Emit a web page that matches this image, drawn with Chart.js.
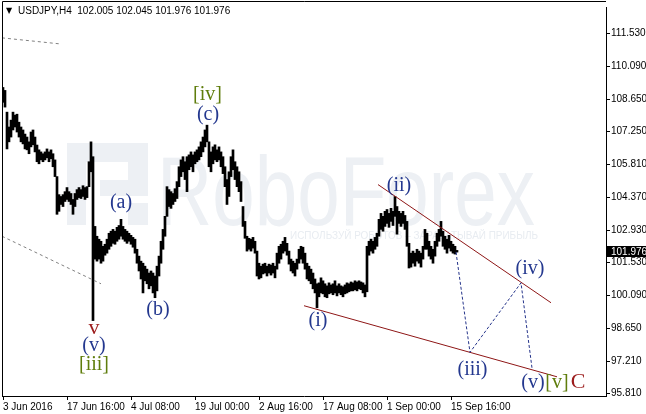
<!DOCTYPE html>
<html>
<head>
<meta charset="utf-8">
<script src="https://cdn.jsdelivr.net/npm/chart.js@4.4.1/dist/chart.umd.min.js"></script>
<style>
  html, body { margin: 0; padding: 0; background: #fff; }
  canvas { display: block; }
</style>
</head>
<body>
<canvas id="chart" width="646" height="414"></canvas>
<script>
// ---- data ----
const symbol = "USDJPY,H4";
const lastQuote = [102.005, 102.045, 101.976, 101.976]; // open high low close
const xLabels = ["3 Jun 2016", "17 Jun 16:00", "4 Jul 08:00", "19 Jul 00:00", "2 Aug 16:00", "17 Aug 08:00", "1 Sep 00:00", "15 Sep 16:00"];
const barsPerLabel = 64;   // H4 bars between two time labels
const barsPerColumn = 2;   // each high/low pair below covers two H4 bars
const yTicks = [95.81, 97.21, 98.65, 100.09, 101.53, 102.93, 104.37, 105.81, 107.25, 108.65, 110.09, 111.53];

const highs = [
  109.18, 109.05, 108.10, 107.45, 107.75, 108.10, 107.97, 108.01, 107.66, 107.45,
  107.32, 107.14, 107.01, 106.80, 107.23, 107.32, 107.01, 106.66, 106.45, 106.36,
  106.28, 106.36, 106.49, 106.36, 106.45, 106.28, 106.01, 105.28, 104.49, 104.41,
  104.49, 104.62, 104.80, 104.62, 104.54, 104.28, 104.54, 104.71, 104.80, 104.71,
  104.88, 104.80, 104.84, 105.93, 106.80, 106.15, 103.10, 102.67, 102.54, 102.45,
  102.23, 102.32, 102.54, 102.80, 102.89, 102.97, 102.89, 103.06, 103.14, 103.41,
  103.10, 102.97, 102.89, 102.80, 102.71, 102.62, 102.54, 102.10, 101.80, 101.58,
  101.49, 101.36, 101.23, 101.06, 101.15, 101.06, 100.93, 101.36, 101.80, 102.45,
  102.97, 103.54, 104.84, 104.71, 104.62, 104.54, 104.75, 105.06, 105.71, 106.01,
  106.15, 105.93, 106.15, 106.23, 106.36, 106.23, 106.36, 106.45, 106.58, 106.80,
  107.01, 107.32, 107.53, 106.80, 106.36, 106.58, 106.67, 106.45, 106.58, 106.36,
  106.15, 105.71, 105.15, 105.49, 106.15, 106.45, 105.93, 105.71, 105.49, 105.06,
  103.97, 103.32, 102.67, 102.58, 102.54, 102.62, 102.45, 102.02, 101.49, 101.36,
  101.45, 101.49, 101.36, 101.45, 101.41, 101.49, 101.36, 101.93, 102.23, 102.32,
  102.45, 102.62, 102.36, 102.02, 101.67, 101.58, 101.49, 101.67, 102.10, 102.23,
  102.19, 101.93, 101.49, 101.36, 101.23, 101.06, 100.80, 100.59, 100.63, 100.85,
  100.72, 100.59, 100.50, 100.63, 100.54, 100.59, 100.72, 100.50, 100.59, 100.50,
  100.46, 100.54, 100.63, 100.59, 100.67, 100.63, 100.72, 100.67, 100.72, 100.67,
  100.63, 100.54, 102.23, 102.45, 102.54, 102.45, 102.62, 102.80, 103.41, 103.67,
  103.54, 103.76, 103.84, 103.67, 103.89, 103.76, 104.41, 103.97, 103.76, 103.67,
  103.76, 103.58, 103.32, 102.36, 101.93, 102.02, 101.93, 102.10, 102.02, 101.93,
  102.23, 102.97, 102.80, 102.45, 102.23, 102.10, 102.45, 102.80, 102.97, 103.32,
  102.89, 102.67, 102.54, 102.71, 102.45, 102.32, 102.23, 102.05
];
const lows = [
  108.53, 108.32, 106.49, 106.80, 107.01, 107.32, 107.45, 107.23, 107.01, 106.80,
  106.71, 106.49, 106.45, 106.28, 106.58, 106.67, 106.36, 105.93, 105.84, 106.01,
  105.93, 106.01, 106.10, 105.93, 106.06, 105.71, 105.28, 103.63, 103.76, 104.06,
  103.97, 104.19, 104.28, 104.19, 104.06, 103.63, 103.97, 104.28, 104.36, 104.32,
  104.41, 104.28, 104.36, 104.84, 105.49, 98.98, 101.67, 101.58, 101.67, 101.49,
  101.58, 101.84, 101.93, 102.10, 102.23, 102.36, 102.32, 102.45, 102.54, 102.67,
  102.54, 102.45, 102.36, 102.45, 102.32, 102.19, 101.93, 101.49, 101.15, 100.80,
  100.19, 100.72, 100.59, 100.37, 100.50, 100.19, 99.98, 100.28, 100.93, 101.49,
  102.10, 102.67, 103.54, 103.97, 103.89, 104.06, 104.19, 104.32, 104.84, 105.28,
  105.49, 105.15, 104.62, 105.58, 105.71, 105.49, 105.84, 105.93, 106.01, 106.15,
  106.36, 106.58, 106.80, 105.71, 105.49, 105.84, 106.01, 105.93, 106.01, 105.71,
  105.41, 104.84, 104.06, 104.41, 105.28, 105.58, 105.15, 104.84, 104.62, 104.19,
  103.10, 102.58, 102.02, 102.10, 102.02, 102.15, 101.93, 100.93, 100.80, 100.85,
  101.02, 101.06, 100.93, 101.06, 100.97, 101.06, 100.85, 101.23, 101.49, 101.67,
  101.93, 102.02, 101.84, 101.45, 101.15, 101.06, 100.93, 101.23, 101.49, 101.67,
  101.49, 101.23, 100.80, 100.72, 100.59, 100.37, 100.19, 99.54, 100.02, 100.19,
  100.15, 100.02, 99.98, 100.15, 100.19, 100.11, 100.19, 100.06, 100.19, 100.11,
  100.02, 100.15, 100.19, 100.24, 100.28, 100.28, 100.33, 100.28, 100.37, 100.33,
  100.19, 100.02, 100.24, 101.84, 102.02, 101.93, 102.10, 102.23, 102.67, 102.97,
  102.89, 103.10, 103.23, 103.06, 103.32, 103.14, 103.54, 102.76, 103.23, 103.10,
  103.23, 102.97, 102.23, 101.28, 101.32, 101.49, 101.36, 101.58, 101.49, 101.32,
  101.67, 102.10, 102.10, 101.80, 101.67, 101.49, 101.80, 102.23, 102.45, 102.67,
  102.23, 102.10, 101.93, 102.15, 102.02, 101.93, 101.89, 101.976
];

// older channel (grey dashed) and the current triangle (dark red), bar index / price
const oldTopBars = [-1, 56];
const oldTopPrices = [111.35, 111.09];
const oldLowBars = [-1, 98];
const oldLowPrices = [102.67, 100.59];
const upperLineBars = [375, 548];
const upperLinePrices = [104.93, 99.76];
const lowerLineBars = [301, 554];
const lowerLinePrices = [99.63, 96.52];
// forecast path (iii) -> (iv) -> (v)
const forecastBars = [453, 467, 518, 529];
const forecastPrices = [101.976, 97.59, 100.63, 96.90];

// wave labels
const waveTexts = ["v", "(v)", "[iii]", "(a)", "(b)", "[iv]", "(c)", "(i)", "(ii)", "(iii)", "(iv)", "(v)", "[v]", "C"];
const waveBars = [91, 91, 91, 118, 155, 204.5, 205, 315, 396, 469.5, 527, 530, 554, 575];
const wavePrices = [98.64, 97.87, 97.03, 104.12, 99.46, 108.88, 107.97, 98.98, 104.89, 96.85, 101.26, 96.27, 96.27, 96.27];
const waveDegrees = ["minor", "minute", "inter", "minute", "minute", "inter", "minute", "minute", "minute", "minute", "minute", "minute", "inter", "minor"];

// ---- styles ----
const degreeColor = { minor: "#9c1c1c", minute: "#24388f", inter: "#5f7d0c" };
const degreeSize = { minor: 22, minute: 20, inter: 20 };
const axisFont = { family: "Liberation Sans", size: 10 };

function pts(bars, prices) {
    return bars.map((b, i) => ({ x: b, y: prices[i] }));
}

const priceBars = highs.map((h, k) => ({ x: k * barsPerColumn, y: [lows[k], h] }));

const watermark = {
    id: "watermark",
    beforeDatasetsDraw(chart) {
        const ctx = chart.ctx;
        ctx.save();
        ctx.fillStyle = "#edf0f4";
        // logo
        ctx.fillRect(67, 143, 19, 82);
        ctx.fillRect(67, 143, 81, 19);
        ctx.fillRect(128, 143, 20, 53);
        ctx.fillRect(100, 180, 48, 16);
        ctx.fillRect(128, 203, 20, 22);
        // name
        ctx.font = "98px 'Liberation Sans'";
        ctx.textBaseline = "alphabetic";
        const w = ctx.measureText("RoboForex").width;
        ctx.translate(157, 225);
        ctx.scale(378 / w, 1);
        ctx.fillText("RoboForex", 0, 0);
        ctx.restore();
        ctx.save();
        ctx.fillStyle = "#e8ecf1";
        ctx.font = "11px 'Liberation Sans'";
        ctx.textBaseline = "middle";
        const slogan = "ИСПОЛЬЗУЙ РОБОТОВ – ЗАРАБАТЫВАЙ ПРИБЫЛЬ";
        const sw = ctx.measureText(slogan).width;
        ctx.translate(290, 236);
        ctx.scale(248 / sw, 1);
        ctx.fillText(slogan, 0, 0);
        ctx.restore();
    }
};

const overlays = {
    id: "overlays",
    afterDatasetsDraw(chart) {
        const ctx = chart.ctx;
        const xs = chart.scales.x, ys = chart.scales.y;
        ctx.save();
        ctx.textAlign = "center";
        ctx.textBaseline = "middle";
        waveTexts.forEach((t, i) => {
            const d = waveDegrees[i];
            ctx.fillStyle = degreeColor[d];
            ctx.font = degreeSize[d] + "px 'Liberation Serif'";
            ctx.fillText(t, xs.getPixelForValue(waveBars[i]), ys.getPixelForValue(wavePrices[i]));
        });
        ctx.restore();
    },
    afterDraw(chart) {
        const ctx = chart.ctx;
        const ca = chart.chartArea;
        const ys = chart.scales.y;
        ctx.save();
        // frame
        ctx.strokeStyle = "#000";
        ctx.lineWidth = 1;
        ctx.beginPath();
        ctx.moveTo(ca.left + 0.5, ca.bottom);
        ctx.lineTo(ca.left + 0.5, 1.5);
        ctx.lineTo(ca.right, 1.5);
        ctx.stroke();
        // title
        ctx.fillStyle = "#000";
        ctx.textBaseline = "middle";
        ctx.font = "8px 'DejaVu Sans'";
        ctx.fillText("▼", 6, 11);
        ctx.font = "10px 'Liberation Sans'";
        ctx.fillText(symbol + "  " + lastQuote.map(v => v.toFixed(3)).join(" "), 18, 11);
        // current price box
        const close = lastQuote[3];
        const py = Math.round(ys.getPixelForValue(close));
        ctx.fillRect(ca.right + 1, py - 6, 40, 11);
        ctx.fillStyle = "#fff";
        ctx.fillText(close.toFixed(3), ca.right + 5, py);
        ctx.restore();
    }
};

new Chart(document.getElementById("chart"), {
    type: "bar",
    data: {
        datasets: [
            { type: "line", data: pts(forecastBars, forecastPrices), borderColor: "#24338a", borderWidth: 1, borderDash: [3, 2], pointRadius: 0, fill: false, order: 1 },
            { type: "line", data: pts(upperLineBars, upperLinePrices), borderColor: "#8e1616", borderWidth: 1, pointRadius: 0, fill: false, order: 1 },
            { type: "line", data: pts(lowerLineBars, lowerLinePrices), borderColor: "#8e1616", borderWidth: 1, pointRadius: 0, fill: false, order: 1 },
            { type: "line", data: pts(oldTopBars, oldTopPrices), borderColor: "#808080", borderWidth: 1, borderDash: [3, 3], pointRadius: 0, fill: false, order: 1 },
            { type: "line", data: pts(oldLowBars, oldLowPrices), borderColor: "#808080", borderWidth: 1, borderDash: [3, 3], pointRadius: 0, fill: false, order: 1 },
            { type: "bar", data: priceBars, backgroundColor: "#000", borderWidth: 0, barThickness: 2, grouped: false, order: 2 }
        ]
    },
    options: {
        responsive: false,
        animation: false,
        devicePixelRatio: 1,
        layout: { padding: { left: 2, top: 4, right: 0, bottom: 0 } },
        plugins: { legend: { display: false }, tooltip: { enabled: false } },
        scales: {
            x: {
                type: "linear",
                min: -1,
                max: 603,
                offset: false,
                grid: { display: true, drawOnChartArea: false, drawTicks: true, tickLength: 4, color: "#000", offset: false },
                border: { display: true, color: "#000" },
                ticks: {
                    autoSkip: false, maxRotation: 0, minRotation: 0, align: "start", padding: 1,
                    color: "#000", font: axisFont,
                    callback: (v, i) => xLabels[i]
                },
                afterBuildTicks: s => { s.ticks = xLabels.map((l, i) => ({ value: i * barsPerLabel })); },
                afterFit: s => { s.height = 18; }
            },
            y: {
                position: "right",
                min: 95.68,
                max: 112.70,
                grid: { display: true, drawOnChartArea: false, drawTicks: true, tickLength: 4, color: "#000" },
                border: { display: true, color: "#000" },
                ticks: { padding: 1, color: "#000", font: axisFont, callback: v => v.toFixed(3) },
                afterBuildTicks: s => { s.ticks = yTicks.map(v => ({ value: v })); },
                afterFit: s => { s.width = 40; }
            }
        }
    },
    plugins: [watermark, overlays]
});
</script>
</body>
</html>
